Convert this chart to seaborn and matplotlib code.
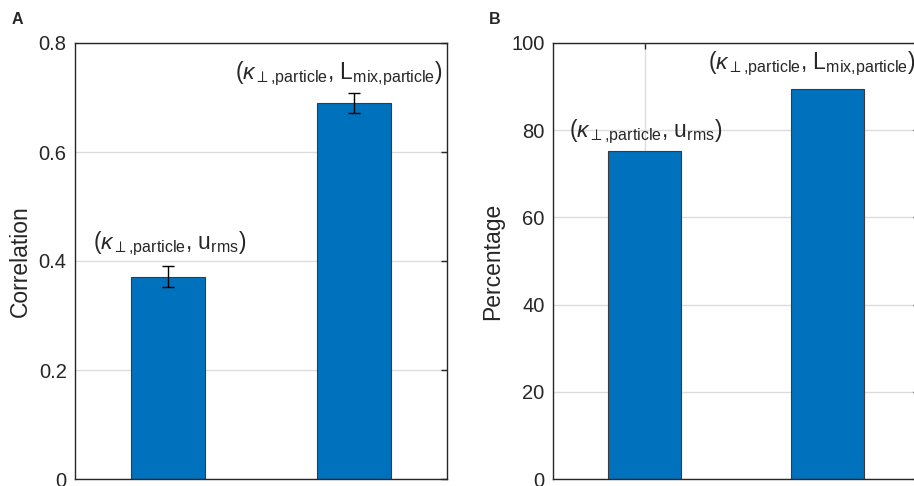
import matplotlib
matplotlib.use("Agg")
import matplotlib.pyplot as plt
import seaborn as sns
import pandas as pd
import numpy as np

# ---- data ----
positions = [1, 2]
pair_labels = [r"($\kappa_{\perp\mathrm{{,}particle}}$, u$_{\mathrm{rms}}$)",
               r"($\kappa_{\perp\mathrm{{,}particle}}$, L$_{\mathrm{mix{,}particle}}$)"]
correlation = [0.371, 0.690]
correlation_err = [0.019, 0.018]
percentage = [75.2, 89.4]
corr_ticks = [0, 0.2, 0.4, 0.6, 0.8]
corr_tick_labels = ["0", "0.2", "0.4", "0.6", "0.8"]
perc_ticks = [0, 20, 40, 60, 80, 100]

sns.set_theme(style="white")
plt.rcParams["font.family"] = ["Liberation Sans", "DejaVu Sans"]
plt.rcParams["mathtext.fontset"] = "custom"
plt.rcParams["mathtext.rm"] = "Liberation Sans"
plt.rcParams["mathtext.it"] = "Liberation Sans:italic"
plt.rcParams["mathtext.sf"] = "Liberation Sans"

W, H = 914, 486
fig = plt.figure(figsize=(W / 100, H / 100), dpi=100)

def px_axes(left, top, width, height):
    return fig.add_axes([left / W, 1 - (top + height) / H, width / W, height / H])

axA = px_axes(75, 43, 372, 436)
axB = px_axes(553, 43, 366, 436)

bar_color = "#0072BD"
edge = "#3a3a3a"
txt = "#262626"

dfA = pd.DataFrame({"pos": positions, "val": correlation})
dfB = pd.DataFrame({"pos": positions, "val": percentage})

for ax, df in ((axA, dfA), (axB, dfB)):
    sns.barplot(data=df, x="pos", y="val", native_scale=True, width=0.4,
                color=bar_color, saturation=1, edgecolor=edge, linewidth=0.8,
                errorbar=None, ax=ax, zorder=2)
    ax.set_xlim(0.5, 2.5)
    for sp in ax.spines.values():
        sp.set_visible(True)
        sp.set_color(txt)
        sp.set_linewidth(1.0)
    ax.tick_params(axis="both", direction="in", length=4, width=1, colors=txt,
                   labelsize=14.5, labelcolor=txt, right=True, top=False, pad=6)
    ax.set_xlabel("")
    ax.grid(True, axis="y", color="#dcdcdc", linewidth=1.0)
    ax.set_axisbelow(True)

# Panel A
axA.errorbar(positions, correlation, yerr=correlation_err, fmt="none",
             ecolor="black", elinewidth=1.0, capsize=4, capthick=1.0, zorder=4)
axA.set_ylim(0, 0.8)
axA.set_yticks(corr_ticks)
axA.set_yticklabels(corr_tick_labels)
axA.set_xticks([])
axA.set_ylabel("Correlation", fontsize=16.5, color=txt, labelpad=5)

axA.annotate(pair_labels[0], xy=(positions[0], correlation[0] + correlation_err[0]),
             xytext=(1, 6), textcoords="offset points", ha="center", va="bottom",
             fontsize=16.5, color=txt, zorder=5)
axA.annotate(pair_labels[1], xy=(positions[1], correlation[1] + correlation_err[1]),
             xytext=(-11, 4), textcoords="offset points", ha="center", va="bottom",
             fontsize=16.5, color=txt, zorder=5)

# Panel B
axB.set_ylim(0, 100)
axB.set_yticks(perc_ticks)
axB.set_xticks([1])
axB.set_xticklabels([""])
axB.tick_params(axis="x", top=True, bottom=True, direction="in", length=4)
axB.grid(True, axis="x", color="#dcdcdc", linewidth=1.0)
axB.set_ylabel("Percentage", fontsize=16.5, color=txt, labelpad=5)

axB.annotate(pair_labels[0], xy=(positions[0], percentage[0]),
             xytext=(1, 4), textcoords="offset points", ha="center", va="bottom",
             fontsize=16.5, color=txt, zorder=5)
axB.annotate(pair_labels[1], xy=(positions[1], percentage[1]),
             xytext=(-11, 8), textcoords="offset points", ha="center", va="bottom",
             fontsize=16.5, color=txt, zorder=5)

fig.text(12 / W, 1 - 20 / H, "A", fontsize=11.5, fontweight="bold", va="center", ha="left")
fig.text(489 / W, 1 - 20 / H, "B", fontsize=11.5, fontweight="bold", va="center", ha="left")

fig.savefig("out.png", dpi=100)
